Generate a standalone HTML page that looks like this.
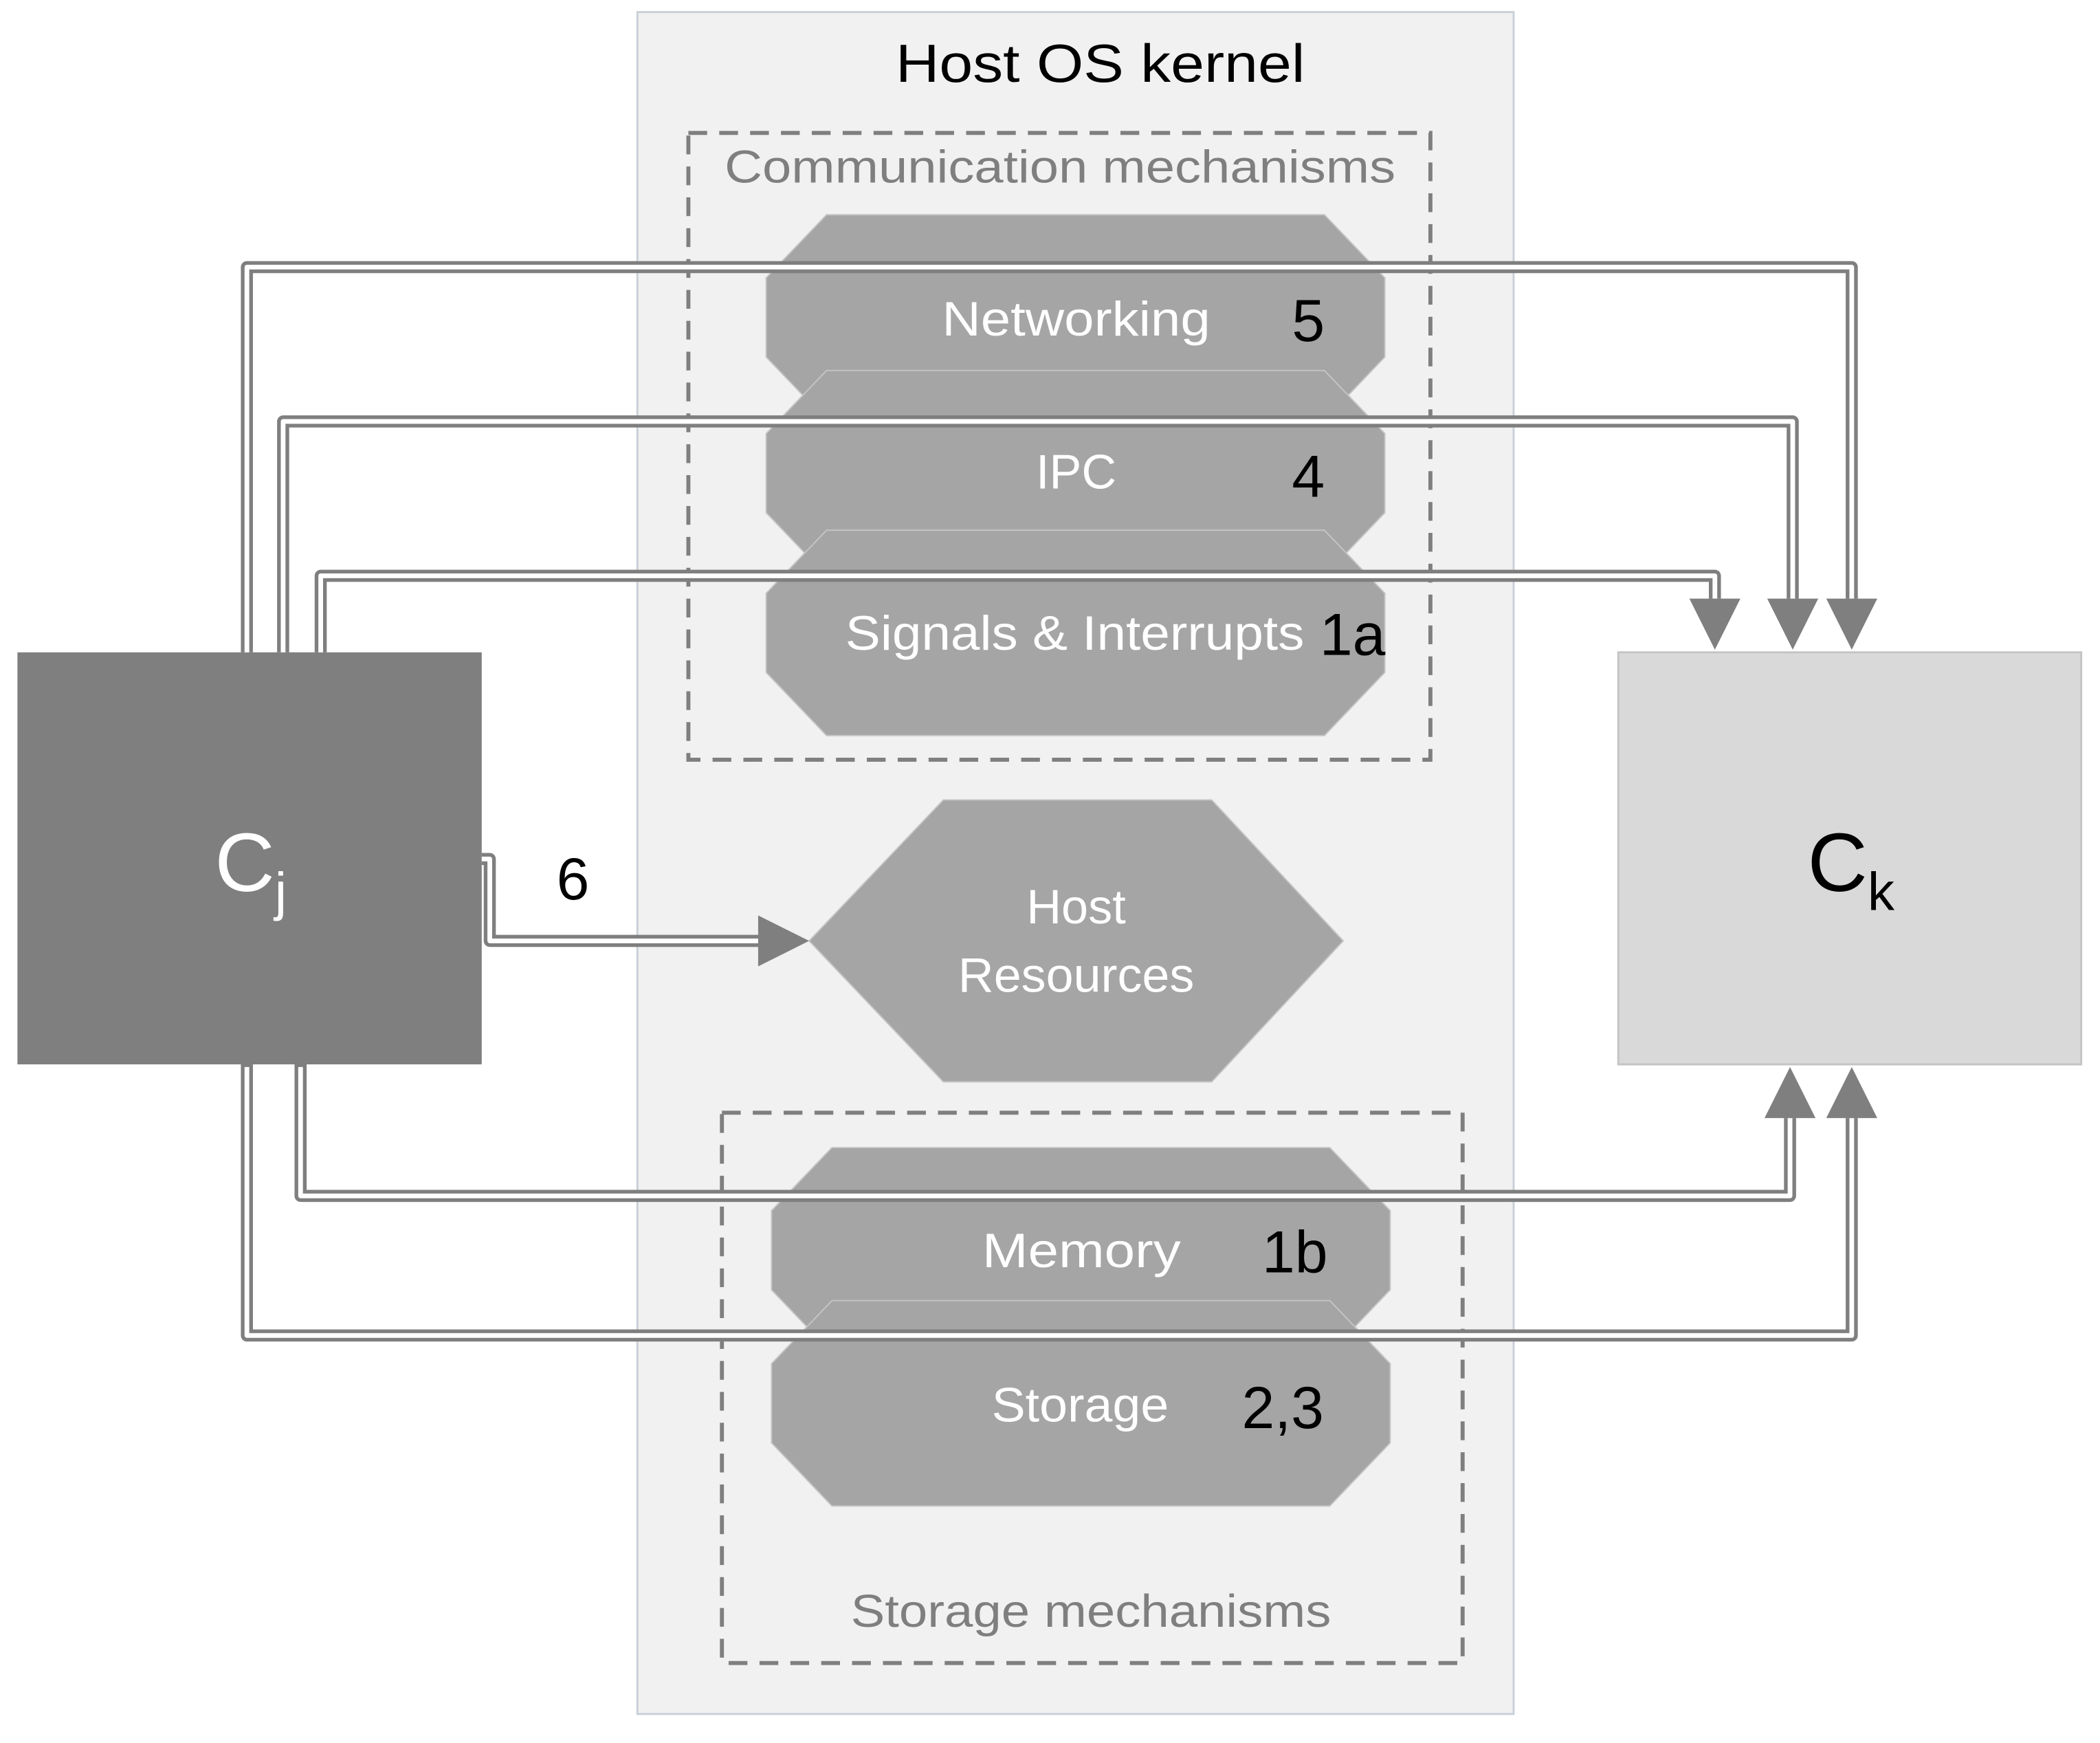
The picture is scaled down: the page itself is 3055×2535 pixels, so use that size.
<!DOCTYPE html>
<html><head><meta charset="utf-8"><style>html,body{margin:0;padding:0;background:#fff}svg{display:block}</style></head>
<body>
<svg width="3055" height="2535" viewBox="0 0 1565 1298.6" xmlns="http://www.w3.org/2000/svg" font-family="'Liberation Sans', sans-serif">
<rect x="0" y="0" width="1565" height="1300" fill="#fff"/>
<rect x="475" y="9" width="653" height="1268" fill="#f1f1f1" stroke="#c9d0d8" stroke-width="1.5"/>
<text x="820" y="61" font-size="40" text-anchor="middle" fill="#000" textLength="305" lengthAdjust="spacingAndGlyphs">Host OS kernel</text>
<rect x="513" y="99" width="553" height="467" fill="none" stroke="#7f7f7f" stroke-width="3" stroke-dasharray="14,9"/>
<text x="790" y="136" font-size="34" text-anchor="middle" fill="#7f7f7f" textLength="500" lengthAdjust="spacingAndGlyphs">Communication mechanisms</text>
<rect x="538" y="829" width="552" height="410" fill="none" stroke="#7f7f7f" stroke-width="3" stroke-dasharray="14,9"/>
<text x="813" y="1212" font-size="34" text-anchor="middle" fill="#7f7f7f" textLength="358" lengthAdjust="spacingAndGlyphs">Storage mechanisms</text>
<g fill="#a5a5a5" stroke="#c4c4c4" stroke-width="1">
<polygon points="616,160 987,160 1032,207 1032,266 987,313 616,313 571,266 571,207"/>
<polygon points="616,276 987,276 1032,323 1032,382 987,429 616,429 571,382 571,323"/>
<polygon points="616,395 987,395 1032,442 1032,501 987,548 616,548 571,501 571,442"/>
<polygon points="620,855 991,855 1036,902 1036,961 991,1008 620,1008 575,961 575,902"/>
<polygon points="620,969 991,969 1036,1016 1036,1075 991,1122 620,1122 575,1075 575,1016"/>
<polygon points="603,701 703,596 903,596 1001,701 903,806 703,806"/>
</g>
<rect x="13" y="486" width="346" height="307" fill="#7f7f7f"/>
<rect x="1206" y="486" width="345" height="307" fill="#d9d9d9" stroke="#c4c4c4" stroke-width="1.5"/>
<g fill="none" stroke-linejoin="round">
<g stroke="#7f7f7f" stroke-width="9">
<path d="M184,486 V199 H1380 V446"/>
<path d="M211,486 V314 H1336 V446"/>
<path d="M239,486 V429 H1278 V446"/>
<path d="M224,793 V891 H1334 V833"/>
<path d="M184,793 V995 H1380 V833"/>
<path d="M359,640 H365 V701 H566"/>
</g>
<g stroke="#fff" stroke-width="3.5">
<path d="M184,486 V199 H1380 V446"/>
<path d="M211,486 V314 H1336 V446"/>
<path d="M239,486 V429 H1278 V446"/>
<path d="M224,795 V891 H1334 V833"/>
<path d="M184,795 V995 H1380 V833"/>
<path d="M359,640 H365 V701 H566"/>
</g>
</g>
<g fill="#7f7f7f">
<polygon points="1259,446 1297,446 1278,484"/>
<polygon points="1317,446 1355,446 1336,484"/>
<polygon points="1361,446 1399,446 1380,484"/>
<polygon points="1315,833 1353,833 1334,795"/>
<polygon points="1361,833 1399,833 1380,795"/>
<polygon points="565,682 565,720 603,701"/>
</g>
<g font-size="36" text-anchor="middle" fill="#fff">
<text x="802" y="250" textLength="200" lengthAdjust="spacingAndGlyphs">Networking</text>
<text x="802" y="364">IPC</text>
<text x="801" y="484" textLength="342" lengthAdjust="spacingAndGlyphs">Signals &amp; Interrupts</text>
<text x="802" y="688">Host</text>
<text x="802" y="739" textLength="176" lengthAdjust="spacingAndGlyphs">Resources</text>
<text x="806" y="944" textLength="148" lengthAdjust="spacingAndGlyphs">Memory</text>
<text x="805" y="1059" textLength="132" lengthAdjust="spacingAndGlyphs">Storage</text>
</g>
<g font-size="44" text-anchor="middle" fill="#000">
<text x="975" y="254">5</text>
<text x="975" y="370">4</text>
<text x="1008" y="488">1a</text>
<text x="965" y="948">1b</text>
<text x="956" y="1064">2,3</text>
<text x="427" y="670">6</text>
</g>
<text x="160" y="664" font-size="62" fill="#fff">C<tspan font-size="40" dy="14">j</tspan></text>
<text x="1347" y="664" font-size="62" fill="#000">C<tspan font-size="40" dy="14">k</tspan></text>
</svg>
</body></html>
